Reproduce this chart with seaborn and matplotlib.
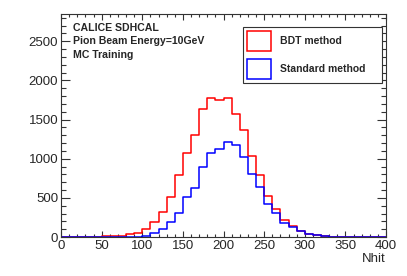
import numpy as np
import pandas as pd
import matplotlib
matplotlib.use("Agg")
import matplotlib.pyplot as plt
import seaborn as sns
from matplotlib.patches import Patch
from matplotlib.ticker import MultipleLocator

# bin centres of Nhit histogram (width 10, 0..400)
centers = np.arange(5, 400, 10)

bdt_counts = [0, 0, 0, 0, 0, 8, 12, 15, 35, 54,
              98, 194, 320, 516, 796, 1076, 1309, 1636, 1780, 1755,
              1780, 1571, 1368, 1034, 795, 524, 362, 220, 136, 72,
              38, 23, 10, 5, 2, 0, 0, 0, 0, 0]
std_counts = [0, 0, 0, 0, 0, 2, 3, 3, 4, 6,
              17, 49, 105, 195, 312, 510, 628, 890, 1076, 1121,
              1214, 1178, 1018, 807, 635, 422, 308, 178, 125, 72,
              40, 21, 10, 5, 2, 1, 0, 0, 0, 0]

df = pd.DataFrame({"Nhit": centers, "bdt": bdt_counts, "std": std_counts})

sns.set_style("ticks")
plt.rcParams["font.family"] = ["Liberation Sans", "DejaVu Sans"]

fig = plt.figure(figsize=(4.07, 2.76), dpi=100)
ax = fig.add_axes([61 / 407, 39 / 276, 325 / 407, 223 / 276])

sns.histplot(data=df, x="Nhit", weights="bdt", binwidth=10, binrange=(0, 400),
             element="step", fill=False, color="#ff0000", linewidth=1.1, ax=ax)
sns.histplot(data=df, x="Nhit", weights="std", binwidth=10, binrange=(0, 400),
             element="step", fill=False, color="#0000ff", linewidth=1.1, ax=ax)

ax.set_xlim(0, 400)
ax.set_ylim(0, 2848)
ax.set_ylabel("")
ax.set_xlabel("")

ax.xaxis.set_major_locator(MultipleLocator(50))
ax.xaxis.set_minor_locator(MultipleLocator(10))
ax.yaxis.set_major_locator(MultipleLocator(500))
ax.yaxis.set_minor_locator(MultipleLocator(100))
ax.tick_params(which="both", direction="in", top=True, right=True,
               labelsize=9.5, color="#333333", width=0.8, pad=2)
ax.tick_params(axis="x", which="major", length=4.5)
ax.tick_params(axis="x", which="minor", length=2.3)
ax.tick_params(axis="y", which="major", length=6.5)
ax.tick_params(axis="y", which="minor", length=3.3)
for s in ax.spines.values():
    s.set_color("#333333")
    s.set_linewidth(0.8)

ax.text(1.0, -0.07, "Nhit", transform=ax.transAxes, ha="right", va="top",
        fontsize=9.5)

ax.text(0.037, 0.937, "CALICE SDHCAL", transform=ax.transAxes,
        fontsize=7.6, fontweight="bold", va="center")
ax.text(0.037, 0.878, "Pion Beam Energy=10GeV", transform=ax.transAxes,
        fontsize=7.6, fontweight="bold", va="center")
ax.text(0.037, 0.816, "MC Training", transform=ax.transAxes,
        fontsize=7.6, fontweight="bold", va="center")

handles = [Patch(facecolor="white", edgecolor="#ff0000", linewidth=1.1),
           Patch(facecolor="white", edgecolor="#0000ff", linewidth=1.1)]
leg = ax.legend(handles, ["BDT method", "Standard method"],
                loc="upper left", bbox_to_anchor=(0.56, 0.695, 0.428, 0.247),
                mode="expand", fancybox=False, framealpha=1,
                edgecolor="#333333", handlelength=2.3, handleheight=2.58,
                labelspacing=0.73, borderpad=0.4, handletextpad=0.9,
                prop={"weight": "bold", "size": 7.5}, borderaxespad=0)
leg.get_frame().set_linewidth(0.8)

fig.savefig("out.png", dpi=100)
